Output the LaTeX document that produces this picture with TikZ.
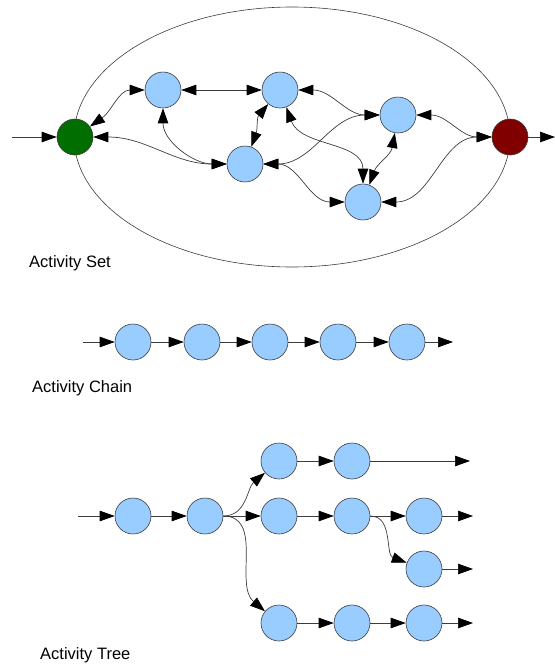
\documentclass[tikz,border=0pt]{standalone}
\usepackage{fontspec}
\setmainfont{Liberation Sans}
\usetikzlibrary{arrows.meta,shapes.geometric}
\definecolor{actblue}{RGB}{153,204,255}
\definecolor{startgreen}{RGB}{0,110,0}
\definecolor{endred}{RGB}{128,0,0}
\definecolor{edgegray}{RGB}{60,60,60}
\tikzset{
  act/.style={circle, draw=edgegray, line width=0.6pt, fill=actblue, minimum size=36pt, inner sep=0pt},
  startnode/.style={act, fill=startgreen},
  endnode/.style={act, fill=endred},
  tip/.tip={Triangle[length=15pt,width=10.5pt,color=black]},
  link/.style={draw=edgegray, line width=0.7pt, -tip},
  blink/.style={draw=edgegray, line width=0.7pt, tip-tip},
  lbl/.style={anchor=west, inner sep=0pt, font=\fontsize{16.5}{20}\selectfont}
}
\begin{document}
\begin{tikzpicture}[x=1pt,y=1pt]
\useasboundingbox (0,0) rectangle (555,-665);
% ---------- Activity Set ----------
\node[draw=edgegray, line width=0.6pt, ellipse, inner sep=0pt, minimum width=436pt, minimum height=260pt] (env) at (292,-137) {};
\node[startnode] (G) at (75,-137) {};
\node[act] (B1) at (163,-90) {};
\node[act] (B2) at (245,-164) {};
\node[act] (T) at (280,-90) {};
\node[act] (R) at (398,-115) {};
\node[act] (L) at (363,-202) {};
\node[endnode] (X) at (510,-137) {};
\coordinate (gin) at (12,-137);
\coordinate (xout) at (555,-137);
\draw[link] (gin) -- (G);
\draw[link] (X) -- (xout);
\draw[blink] (G) to[out=35,in=180] (B1);
\draw[blink] (B1) -- (T);
\draw[blink] (B1) to[out=-90,in=180] (B2);
\draw[blink] (G) to[out=0,in=180] (B2);
\draw[blink] (B2) to[out=70,in=-130] (T);
\draw[blink] (T) to[out=-70,in=90] (L);
\draw[blink] (B2) to[out=0,in=180] (R);
\draw[blink] (B2) to[out=0,in=180] (L);
\draw[blink] (L) to[out=70,in=-100] (R);
\draw[blink] (T) to[out=0,in=180] (R);
\draw[blink] (R) to[out=0,in=180] (X);
\draw[blink] (L) to[out=0,in=180] (X);
\node[lbl] (setlbl) at (29,-263) {Activity Set};
% ---------- Activity Chain ----------
\node[act] (c1) at (133,-342) {};
\node[act] (c2) at (202,-342) {};
\node[act] (c3) at (270,-342) {};
\node[act] (c4) at (338,-342) {};
\node[act] (c5) at (407,-342) {};
\coordinate (cin) at (83,-342);
\coordinate (cout) at (453,-342);
\draw[link] (cin) -- (c1);
\draw[link] (c1) -- (c2);
\draw[link] (c2) -- (c3);
\draw[link] (c3) -- (c4);
\draw[link] (c4) -- (c5);
\draw[link] (c5) -- (cout);
\node[lbl] (chainlbl) at (32,-388) {Activity Chain};
% ---------- Activity Tree ----------
\node[act] (t1) at (133,-516) {};
\node[act] (t2) at (205,-516) {};
\node[act] (a1) at (279,-461) {};
\node[act] (a2) at (352,-461) {};
\node[act] (m1) at (279,-516) {};
\node[act] (m2) at (352,-516) {};
\node[act] (m3) at (424,-516) {};
\node[act] (n3) at (424,-569) {};
\node[act] (b1) at (279,-623) {};
\node[act] (b2) at (352,-623) {};
\node[act] (b3) at (424,-623) {};
\coordinate (tin) at (78,-516);
\coordinate (aout) at (470,-461);
\coordinate (mout) at (473,-516);
\coordinate (nout) at (473,-569);
\coordinate (bout) at (473,-623);
\draw[link] (tin) -- (t1);
\draw[link] (t1) -- (t2);
\draw[link] (t2) -- (m1);
\draw[link] (t2.east) to[out=0,in=220] (a1);
\draw[link] (t2.east) to[out=0,in=140] (b1);
\draw[link] (a1) -- (a2);
\draw[link] (a2) -- (aout);
\draw[link] (m1) -- (m2);
\draw[link] (m2) -- (m3);
\draw[link] (m3) -- (mout);
\draw[link] (m2.east) to[out=0,in=160] (n3);
\draw[link] (n3) -- (nout);
\draw[link] (b1) -- (b2);
\draw[link] (b2) -- (b3);
\draw[link] (b3) -- (bout);
\node[lbl] (treelbl) at (40,-655) {Activity Tree};
\end{tikzpicture}
\end{document}
